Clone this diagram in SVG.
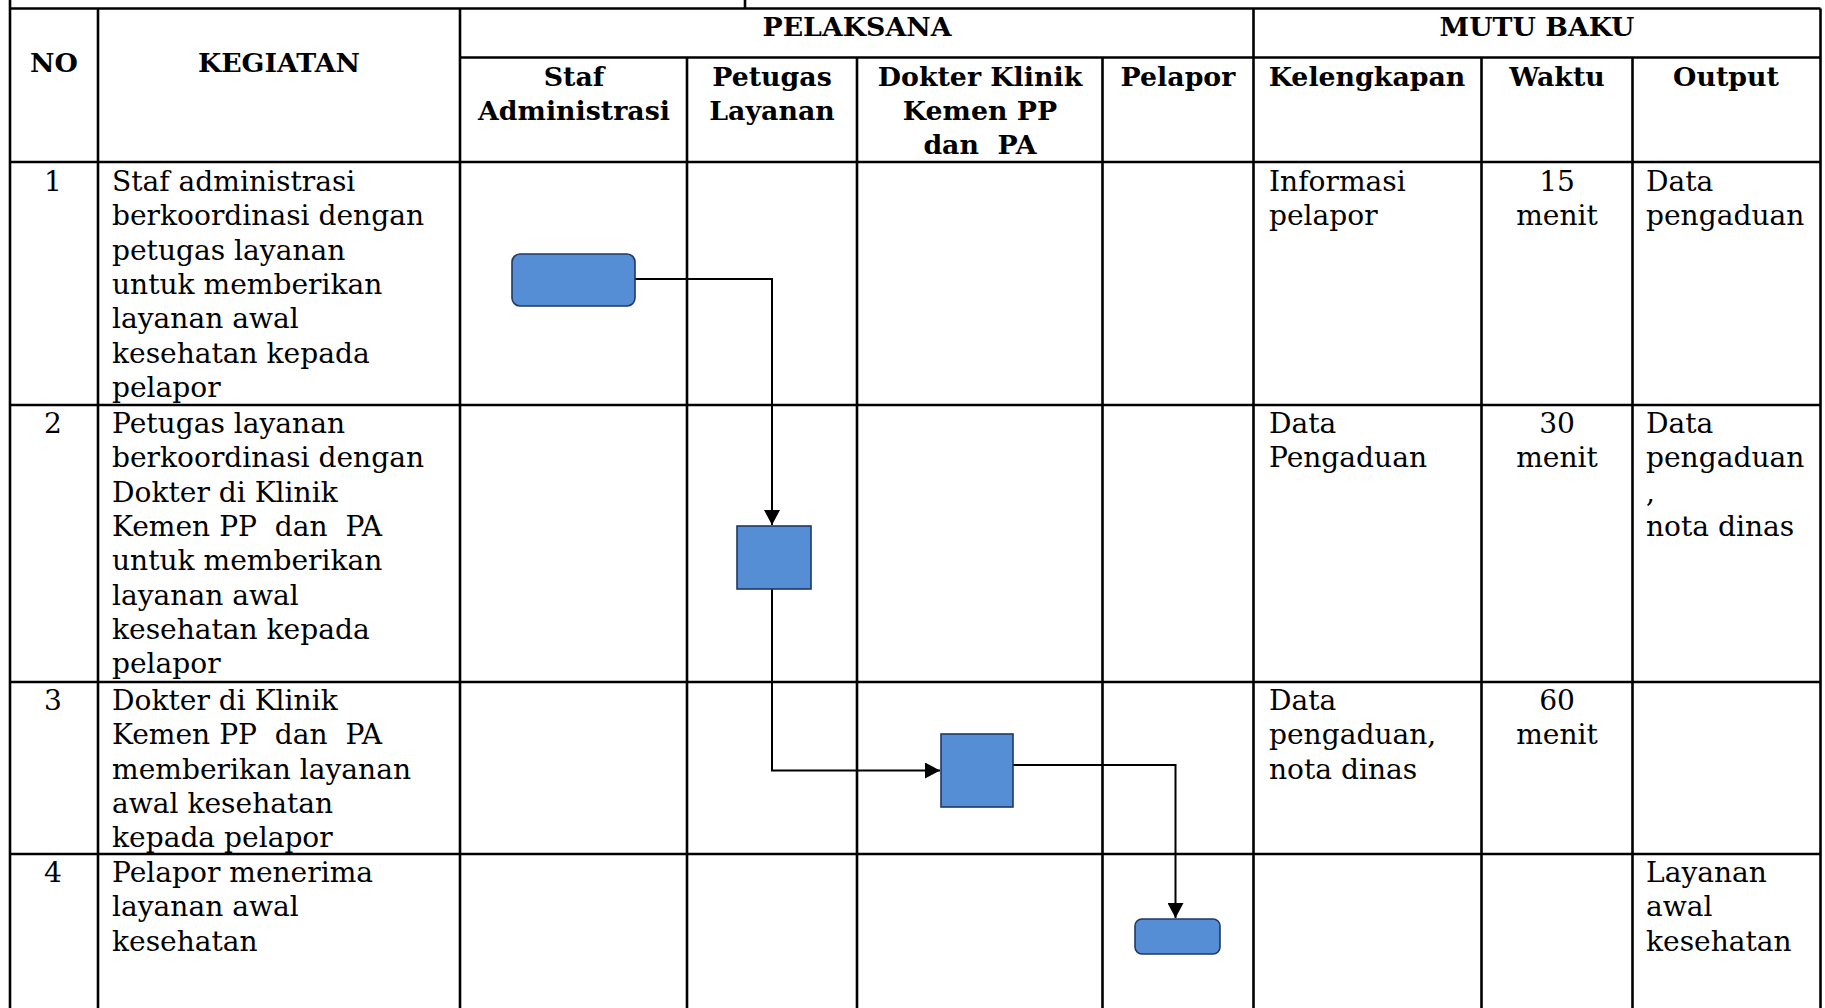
<svg xmlns="http://www.w3.org/2000/svg" width="1825" height="1008" viewBox="0 0 1825 1008">
<style>
.grid line{stroke:#000;stroke-width:2.6}
.h{font-family:"DejaVu Serif","Liberation Serif",serif;font-weight:bold;font-size:26.8px;fill:#000;text-anchor:middle}
.b{font-family:"DejaVu Serif","Liberation Serif",serif;font-size:28.1px;fill:#000;white-space:pre}
.c{text-anchor:middle}
.node{fill:#558ED5;stroke:#1F3864;stroke-width:1.6}
.conn{fill:none;stroke:#000;stroke-width:2}
</style>
<defs>
<marker id="arr" markerWidth="16" markerHeight="16" refX="15" refY="8" orient="auto" markerUnits="userSpaceOnUse">
<path d="M0,0 L15,8 L0,16 Z" fill="#000"/>
</marker>
</defs>
<rect width="1825" height="1008" fill="#fff"/>
<g class="grid">
<line x1="10" y1="0" x2="10" y2="1008"/>
<line x1="745" y1="0" x2="745" y2="8.5"/>
<line x1="98" y1="8.5" x2="98" y2="1008"/>
<line x1="460" y1="8.5" x2="460" y2="1008"/>
<line x1="687" y1="57.5" x2="687" y2="1008"/>
<line x1="857" y1="57.5" x2="857" y2="1008"/>
<line x1="1102.5" y1="57.5" x2="1102.5" y2="1008"/>
<line x1="1253.5" y1="8.5" x2="1253.5" y2="1008"/>
<line x1="1481.5" y1="57.5" x2="1481.5" y2="1008"/>
<line x1="1632.5" y1="57.5" x2="1632.5" y2="1008"/>
<line x1="1820.5" y1="8.5" x2="1820.5" y2="1008"/>
<line x1="10" y1="8.5" x2="1820.5" y2="8.5"/>
<line x1="460" y1="57.5" x2="1820.5" y2="57.5"/>
<line x1="10" y1="162" x2="1820.5" y2="162"/>
<line x1="10" y1="405" x2="1820.5" y2="405"/>
<line x1="10" y1="682" x2="1820.5" y2="682"/>
<line x1="10" y1="854" x2="1820.5" y2="854"/>
</g>
<g id="header">
<text class="h" x="54" y="72">NO</text>
<text class="h" x="279" y="72">KEGIATAN</text>
<text class="h" x="857" y="36">PELAKSANA</text>
<text class="h" x="1537" y="36">MUTU BAKU</text>
<text class="h" x="574" y="86">Staf</text>
<text class="h" x="574" y="120">Administrasi</text>
<text class="h" x="772" y="86">Petugas</text>
<text class="h" x="772" y="120">Layanan</text>
<text class="h" x="980" y="86">Dokter Klinik</text>
<text class="h" x="980" y="120">Kemen PP</text>
<text class="h" x="980" y="154" style="white-space:pre">dan  PA</text>
<text class="h" x="1178" y="86">Pelapor</text>
<text class="h" x="1367" y="86">Kelengkapan</text>
<text class="h" x="1557" y="86">Waktu</text>
<text class="h" x="1726" y="86">Output</text>
</g>
<g id="row1">
<text class="b c" x="53" y="191">1</text>
<text class="b" x="112" y="191">Staf administrasi</text>
<text class="b" x="112" y="225.3">berkoordinasi dengan</text>
<text class="b" x="112" y="259.6">petugas layanan</text>
<text class="b" x="112" y="293.9">untuk memberikan</text>
<text class="b" x="112" y="328.2">layanan awal</text>
<text class="b" x="112" y="362.5">kesehatan kepada</text>
<text class="b" x="112" y="396.8">pelapor</text>
<text class="b" x="1269" y="191">Informasi</text>
<text class="b" x="1269" y="225.3">pelapor</text>
<text class="b c" x="1557" y="191">15</text>
<text class="b c" x="1557" y="225.3">menit</text>
<text class="b" x="1646" y="191">Data</text>
<text class="b" x="1646" y="225.3">pengaduan</text>
</g>
<g id="row2">
<text class="b c" x="53" y="433">2</text>
<text class="b" x="112" y="433">Petugas layanan</text>
<text class="b" x="112" y="467.3">berkoordinasi dengan</text>
<text class="b" x="112" y="501.6">Dokter di Klinik</text>
<text class="b" x="112" y="535.9">Kemen PP  dan  PA</text>
<text class="b" x="112" y="570.2">untuk memberikan</text>
<text class="b" x="112" y="604.5">layanan awal</text>
<text class="b" x="112" y="638.8">kesehatan kepada</text>
<text class="b" x="112" y="673.1">pelapor</text>
<text class="b" x="1269" y="433">Data</text>
<text class="b" x="1269" y="467.3">Pengaduan</text>
<text class="b c" x="1557" y="433">30</text>
<text class="b c" x="1557" y="467.3">menit</text>
<text class="b" x="1646" y="433">Data</text>
<text class="b" x="1646" y="467.3">pengaduan</text>
<text class="b" x="1646" y="501.6">,</text>
<text class="b" x="1646" y="535.9">nota dinas</text>
</g>
<g id="row3">
<text class="b c" x="53" y="710">3</text>
<text class="b" x="112" y="710">Dokter di Klinik</text>
<text class="b" x="112" y="744.3">Kemen PP  dan  PA</text>
<text class="b" x="112" y="778.6">memberikan layanan</text>
<text class="b" x="112" y="812.9">awal kesehatan</text>
<text class="b" x="112" y="847.2">kepada pelapor</text>
<text class="b" x="1269" y="710">Data</text>
<text class="b" x="1269" y="744.3">pengaduan,</text>
<text class="b" x="1269" y="778.6">nota dinas</text>
<text class="b c" x="1557" y="710">60</text>
<text class="b c" x="1557" y="744.3">menit</text>
</g>
<g id="row4">
<text class="b c" x="53" y="882">4</text>
<text class="b" x="112" y="882">Pelapor menerima</text>
<text class="b" x="112" y="916.3">layanan awal</text>
<text class="b" x="112" y="950.6">kesehatan</text>
<text class="b" x="1646" y="882">Layanan</text>
<text class="b" x="1646" y="916.3">awal</text>
<text class="b" x="1646" y="950.6">kesehatan</text>
</g>
<g id="connectors">
<path class="conn" d="M635,279 H772 V525" marker-end="url(#arr)"/>
<path class="conn" d="M772,589 V770.5 H940" marker-end="url(#arr)"/>
<path class="conn" d="M1013,765 H1175.5 V918" marker-end="url(#arr)"/>
</g>
<g id="node-staf-start"><rect class="node" x="512" y="254" width="123" height="52" rx="8"/></g>
<g id="node-petugas"><rect class="node" x="737" y="526" width="74" height="63"/></g>
<g id="node-dokter"><rect class="node" x="941" y="734" width="72" height="73"/></g>
<g id="node-pelapor-end"><rect class="node" x="1135" y="919" width="85" height="35" rx="7"/></g>
</svg>
